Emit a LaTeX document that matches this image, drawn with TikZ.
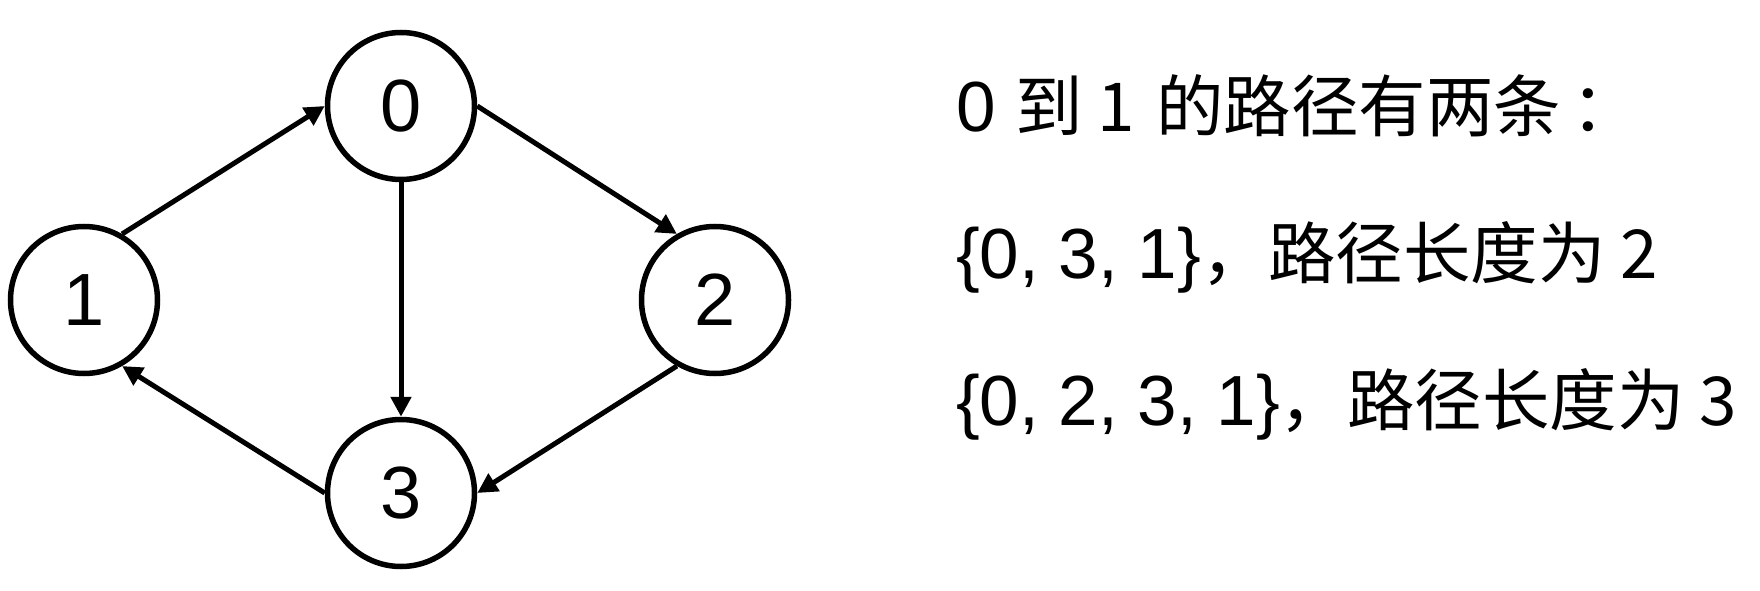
\documentclass[tikz,border=0pt]{standalone}
\usepackage{fontspec}
\setmainfont{Liberation Sans}
\newfontfamily\cjk[Scale=0.95]{Noto Sans CJK SC}
\usetikzlibrary{arrows.meta}
\tikzset{
    vertex/.style={
        circle,
        draw,
        line width=5.5pt,
        minimum size=147pt,
        inner sep=0pt,
        font=\fontsize{74}{88}\selectfont
    },
    edge/.style={
        -{Triangle[length=20pt,width=20pt]},
        line width=5pt
    },
    pathtext/.style={
        anchor=base west,
        inner sep=0pt,
        font=\fontsize{71}{86}\selectfont
    }
}

\begin{document}
\begin{tikzpicture}[x=1pt,y=1pt]

    \useasboundingbox (0,0) rectangle (1760,590);

    % Sommets
    \node[vertex] (v0) at (401,484) {0};
    \node[vertex] (v1) at (84,290) {1};
    \node[vertex] (v2) at (715,290) {2};
    \node[vertex] (v3) at (401,97) {3};

    % Arcs
    \draw[edge]
        (v1.60) -- (v0.west);

    \draw[edge]
        (v0.east) -- (v2.120);

    \draw[edge]
        (v0.south) -- (v3.north);

    \draw[edge]
        (v2.240) -- (v3.east);

    \draw[edge]
        (v3.west) -- (v1.300);

    % Chemins
    \node[pathtext] (t0)
        at (956,458)
        {0 \cjk{到} 1 \kern6pt\cjk{的路径有两条}\kern10pt\cjk{：}};

    \node[pathtext] (t1)
        at (956,312)
        {\{0, 3, 1\}\cjk{，路径长度为} 2};

    \node[pathtext] (t2)
        at (956,165)
        {\{0, 2, 3, 1\}\cjk{，路径长度为} 3};

\end{tikzpicture}
\end{document}
